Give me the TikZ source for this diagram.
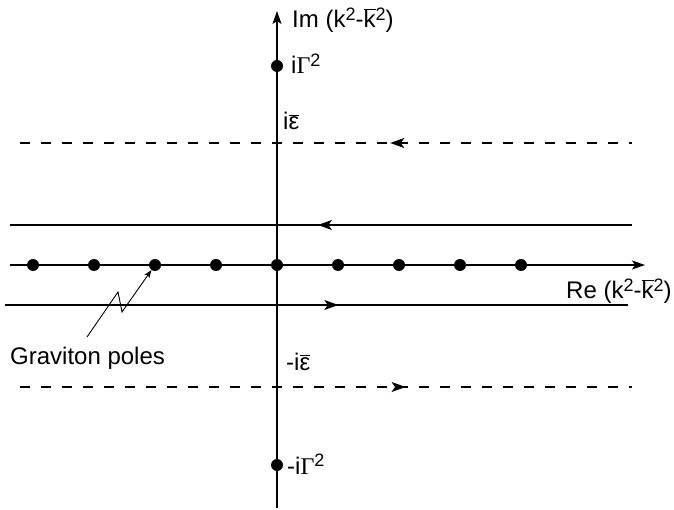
\documentclass[tikz,border=0pt]{standalone}
\usepackage{fontspec}
\setmainfont{Liberation Sans}
\newfontfamily\grk{Liberation Serif}
\usetikzlibrary{arrows.meta,decorations.markings}
\newcommand{\sq}{\raisebox{0.62ex}{\fontsize{18}{20}\selectfont 2}}
\newcommand{\kb}{$\overline{\mbox{k}}$}
\newcommand{\eb}{$\overline{\mbox{ε}}$}
\begin{document}
\begin{tikzpicture}[x=1pt,y=-1pt,
  ln/.style={line width=1.3pt,black},
  dsh/.style={line width=1.3pt,black,dash pattern=on 10pt off 11pt},
  tip/.style={-{Stealth[length=13pt,width=9pt,inset=3pt]}},
  pole/.style={circle,fill=black,inner sep=0pt,minimum size=12pt},
  lab/.style={font=\fontsize{24}{28}\selectfont,inner sep=0pt,anchor=base west},
  fwd/.style={postaction={decorate,decoration={markings,mark=at position #1 with {\arrow{Stealth[length=14pt,width=10pt,inset=3.5pt]}}}}},
  bwd/.style={postaction={decorate,decoration={markings,mark=at position #1 with {\arrowreversed{Stealth[length=14pt,width=10pt,inset=3.5pt]}}}}}
]
\useasboundingbox (0,0) rectangle (674,510);
% coordinates
\coordinate (ib) at (277,508);
\coordinate (it) at (277,11);
\coordinate (rl) at (10,265);
\coordinate (rr) at (645,265);
\coordinate (ul) at (10,225);
\coordinate (ur) at (632,225);
\coordinate (ll) at (5,305);
\coordinate (lr) at (628,305);
\coordinate (dl) at (20,143);
\coordinate (dr) at (632,143);
\coordinate (el) at (20,387);
\coordinate (er) at (632,387);
% axes
\draw[ln,tip] (ib) -- (it);
\draw[ln,tip] (rl) -- (rr);
% contour lines
\draw[ln,bwd=0.495] (ul) -- (ur);
\draw[ln,fwd=0.535] (ll) -- (lr);
\draw[dsh,bwd=0.605] (dl) -- (dr);
\draw[dsh,fwd=0.63] (el) -- (er);
% poles
\foreach \i/\x in {1/33,2/94,3/155,4/216,5/277,6/338,7/399,8/460,9/521}
  \node[pole] (p\i) at (\x,265) {};
\node[pole] (gt) at (277,66) {};
\node[pole] (gb) at (277,465) {};
% labels
\node[lab] (imlab) at (292,28) {Im (k\sq-\kb\sq)};
\node[lab] (gtl) at (291,74) {i{\grk Γ}\sq};
\node[lab] (epl) at (283,130) {i\eb};
\node[lab] (relab) at (566,299) {Re (k\sq-\kb\sq)};
\node[lab] (gp) at (10,364) {Graviton poles};
\node[lab] (eml) at (286,370) {-i\eb};
\node[lab] (gbl) at (287,474) {-i{\grk Γ}\sq};
% zigzag pointer
\coordinate (z0) at (87,337);
\coordinate (z1) at (118,292);
\coordinate (z2) at (122,312);
\draw[line width=0.9pt,-{Stealth[length=8pt,width=6pt,inset=2pt]}] (z0) -- (z1) -- (z2) -- (p3);
\end{tikzpicture}
\end{document}
